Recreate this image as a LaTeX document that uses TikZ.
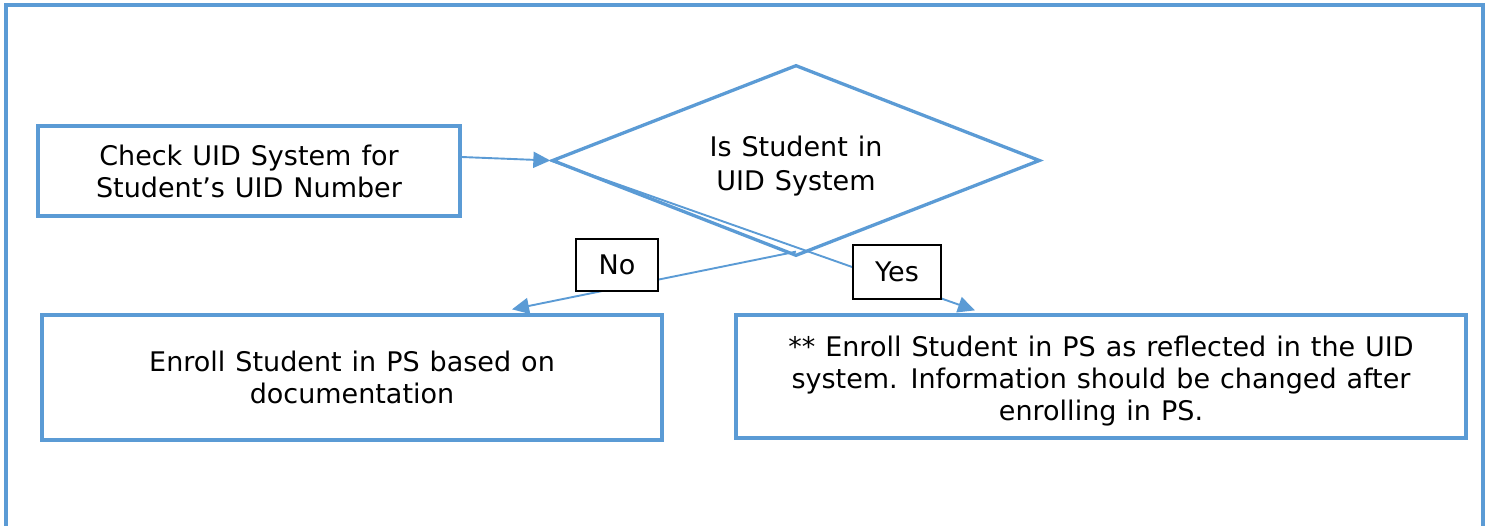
\documentclass[tikz,border=0pt]{standalone}
\usepackage{fontspec}
\setmainfont{DejaVu Sans}
\usetikzlibrary{shapes.geometric,arrows.meta}
\definecolor{flowblue}{HTML}{5B9BD5}
\newcommand{\chartfont}{\fontsize{27}{32}\selectfont\spaceskip=0.37em plus 0.1em\relax}
% centred block of lines with extra room #1 above them (text sits lower by #1/2)
\newcommand{\loweredlines}[3]{\parbox{#2}{\vspace*{#1}\centering #3}}
\tikzset{
  flowbox/.style={draw=flowblue, line width=3.3pt, rectangle, align=center,
    inner sep=0pt, font=\chartfont},
  decision/.style={draw=flowblue, line width=3.3pt, diamond, align=center,
    inner sep=0pt, aspect=2.55, font=\chartfont},
  answer/.style={draw=black, line width=2.8pt, fill=white, rectangle,
    inner sep=0pt, font=\chartfont},
  link/.style={draw=flowblue, line width=1.9pt,
    -{Triangle[length=17pt,width=16pt]}}
}
\begin{document}
\begin{tikzpicture}[x=1pt,y=-1pt]
  \useasboundingbox (0,0) rectangle (1490,525);
  % open frame around the chart
  \draw[flowblue, line width=3.3pt] (6,530) -- (6,5) -- (1483,5) -- (1483,530);

  \node[flowbox, minimum width=422pt, minimum height=90pt] (check) at (249,171)
    {Check UID System for\\Student’s UID Number};
  \node[decision, minimum width=488pt, minimum height=191pt] (isin) at (796,160.5)
    {\loweredlines{12pt}{300pt}{\baselineskip=34pt Is Student in\\UID System}};
  \node[flowbox, minimum width=620pt, minimum height=125pt] (docs) at (352,377.5)
    {Enroll Student in PS based on\\documentation};
  \node[flowbox, minimum width=730pt, minimum height=123pt] (uid) at (1101,376.5)
    {\loweredlines{10pt}{700pt}{** Enroll Student in PS as reflected in the UID\\system. Information should be changed after\\enrolling in PS.}};

  \coordinate (noStart) at ([yshift=6pt]isin.south);
  \coordinate (noEnd) at ([xshift=160pt,yshift=4pt]docs.north);
  \coordinate (yesEnd) at ([xshift=-126pt,yshift=3pt]uid.north);

  \draw[link] ([yshift=14pt]check.east) -- (isin.west);
  \draw[link] (noStart) -- (noEnd);
  \draw[link] (isin.west) -- (yesEnd);

  \node[answer, minimum width=82pt, minimum height=52pt] (no) at (617,265) {No};
  \node[answer, minimum width=88pt, minimum height=54pt] (yes) at (897,272) {Yes};
\end{tikzpicture}
\end{document}
